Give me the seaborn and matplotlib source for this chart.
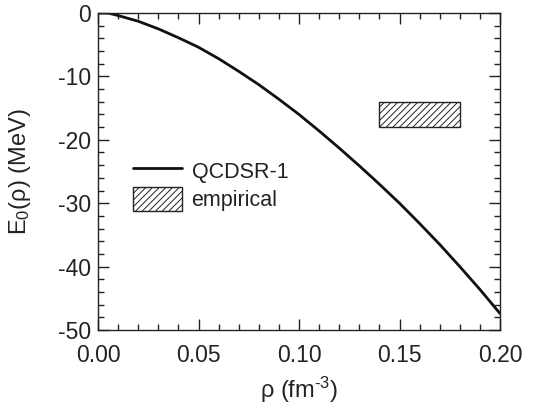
import matplotlib
matplotlib.use("Agg")
import matplotlib.pyplot as plt
import seaborn as sns
import pandas as pd
from matplotlib.patches import Patch
from matplotlib.lines import Line2D
from matplotlib.ticker import MultipleLocator

# data
rho = [0.000, 0.005, 0.010, 0.020, 0.030, 0.040, 0.050, 0.060, 0.070, 0.080,
       0.090, 0.100, 0.110, 0.120, 0.130, 0.140, 0.150, 0.160, 0.170, 0.180,
       0.190, 0.200]
E0 = [0.0, 0.0, -0.4, -1.3, -2.5, -3.9, -5.4, -7.2, -9.2, -11.3,
      -13.6, -16.0, -18.6, -21.3, -24.1, -27.0, -30.0, -33.2, -36.5, -40.0,
      -43.6, -47.4]
emp_rho = [0.14, 0.18]
emp_E = [-18.0, -14.0]
series_label = "QCDSR-1"
emp_label = "empirical"
xticks = [0.00, 0.05, 0.10, 0.15, 0.20]
xticklabels = ["0.00", "0.05", "0.10", "0.15", "0.20"]
yticks = [0, -10, -20, -30, -40, -50]
yticklabels = ["0", "-10", "-20", "-30", "-40", "-50"]

sns.set_theme(style="ticks")
plt.rcParams['font.family'] = ['Liberation Sans', 'DejaVu Sans']
plt.rcParams['hatch.linewidth'] = 0.7
plt.rcParams['axes.unicode_minus'] = False
plt.rcParams['mathtext.fontset'] = 'custom'
plt.rcParams['mathtext.rm'] = 'Liberation Sans'
plt.rcParams['mathtext.it'] = 'Liberation Sans'

TXT = "#222222"
fig = plt.figure(figsize=(5.57, 4.15), dpi=100)
ax = fig.add_axes([98/557, 1-330/415, 402/557, 317/415])

df = pd.DataFrame({"rho": rho, "E0": E0})
sns.lineplot(data=df, x="rho", y="E0", ax=ax, color="#111111", lw=2.0)

ax.bar([(emp_rho[0]+emp_rho[1])/2], [emp_E[1]-emp_E[0]], width=emp_rho[1]-emp_rho[0],
       bottom=emp_E[0], facecolor="white", edgecolor=TXT, hatch="/////", lw=1.0)

ax.set_xlim(0, 0.2)
ax.set_ylim(-50, 0)
ax.set_xticks(xticks)
ax.set_xticklabels(xticklabels)
ax.set_yticks(yticks)
ax.set_yticklabels(yticklabels)
ax.xaxis.set_minor_locator(MultipleLocator(0.01))
ax.yaxis.set_minor_locator(MultipleLocator(2))
ax.tick_params(which="both", direction="in", top=True, right=True, colors=TXT,
               labelcolor=TXT, labelsize=16.5)
ax.tick_params(axis="x", which="both", pad=10)
ax.tick_params(axis="y", which="both", pad=5)
ax.tick_params(which="major", length=8, width=1)
ax.tick_params(which="minor", length=4, width=1)
for s in ax.spines.values():
    s.set_linewidth(1.0)
    s.set_color(TXT)

ax.set_xlabel(r"ρ (fm$^{\text{-3}}$)", fontsize=17, color=TXT)
ax.set_ylabel(r"E$_0$(ρ) (MeV)", fontsize=17, color=TXT)
ax.xaxis.set_label_coords(0.5, -0.142)
ax.yaxis.set_label_coords(-0.162, 0.5)

handles = [Line2D([0], [0], color="#111111", lw=2.0),
           Patch(facecolor="white", edgecolor=TXT, hatch="/////", lw=1.0)]
leg = ax.legend(handles, [series_label, emp_label], loc="upper left",
                bbox_to_anchor=(0.087, 0.54), frameon=False, fontsize=15.5,
                handlelength=2.3, handleheight=1.3, handletextpad=0.42,
                labelspacing=0.2, borderpad=0, borderaxespad=0)
for t in leg.get_texts():
    t.set_color(TXT)

fig.savefig("out.png", dpi=100)
